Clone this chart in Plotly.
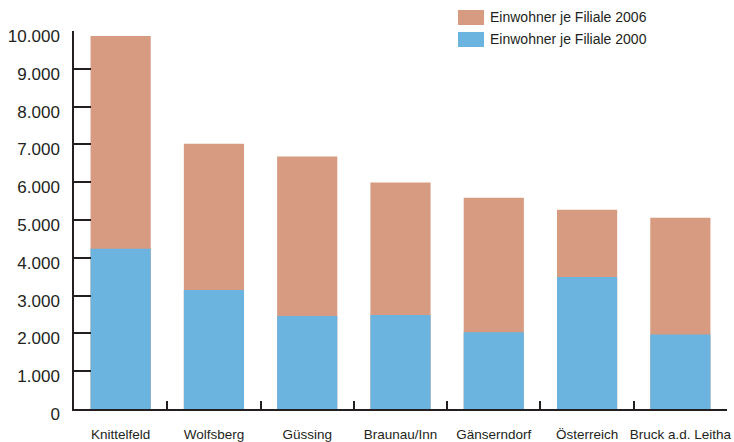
import plotly.graph_objects as go

categories = ["Knittelfeld", "Wolfsberg", "Güssing", "Braunau/Inn", "Gänserndorf", "Österreich", "Bruck a.d. Leitha"]
values_2006 = [9870, 7020, 6680, 5990, 5590, 5270, 5060]
values_2000 = [4240, 3150, 2460, 2490, 2030, 3490, 1970]
name_2006 = "Einwohner je Filiale 2006"
name_2000 = "Einwohner je Filiale 2000"
y_ticks = list(range(0, 10001, 1000))

C_2006 = "#D79B82"
C_2000 = "#6CB4E0"
TXT = "#231f20"
FONT = "Arial, Liberation Sans, sans-serif"

W, H = 734, 442
L, R, T, B = 74, 7, 31, 33
PW, PH = W - L - R, H - T - B

def px(x):
    return (x - L) / PW

def py(y):
    return (H - B - y) / PH

fig = go.Figure()
fig.add_trace(go.Bar(x=categories, y=values_2006, name=name_2006, marker=dict(color=C_2006, line=dict(width=0)), width=0.645, showlegend=False))
fig.add_trace(go.Bar(x=categories, y=values_2000, name=name_2000, marker=dict(color=C_2000, line=dict(width=0)), width=0.645, showlegend=False))

# legend (manual)
for i, (nm, col) in enumerate([(name_2006, C_2006), (name_2000, C_2000)]):
    yc = 17.5 + 22 * i
    fig.add_shape(type="rect", xref="paper", yref="paper", x0=px(458), x1=px(484), y0=py(yc - 7.5), y1=py(yc + 7.5),
                  fillcolor=col, line=dict(width=0), layer="above")
    fig.add_annotation(xref="paper", yref="paper", x=px(488), y=py(yc), text=nm, showarrow=False,
                       xanchor="left", yanchor="middle", font=dict(family=FONT, size=14, color=TXT))

fig.update_layout(
    width=W, height=H,
    margin=dict(l=L, r=R, t=T, b=B, pad=0, autoexpand=False),
    barmode="overlay",
    plot_bgcolor="white", paper_bgcolor="white",
    separators=",.",
    font=dict(family=FONT, color=TXT),
    showlegend=False,
)
fig.update_xaxes(
    type="category", tickson="boundaries", ticks="inside", ticklen=8, tickwidth=1.5, tickcolor=TXT,
    showline=True, linecolor=TXT, linewidth=1.5, showgrid=False, zeroline=False,
    tickfont=dict(family=FONT, size=13.5, color=TXT), ticklabelstandoff=12, tickangle=0, automargin=False,
    range=[-0.5, 6.5],
)
fig.update_yaxes(
    range=[0, 10000], tickvals=y_ticks, tickformat=",d", ticks="inside", ticklen=17, tickwidth=1.5, tickcolor=TXT,
    showline=True, linecolor=TXT, linewidth=1.5, showgrid=False, zeroline=False, automargin=False,
    tickfont=dict(family=FONT, size=17, color=TXT), ticklabelstandoff=9, ticklabelshift=5,
)

fig.write_html("out.html")
